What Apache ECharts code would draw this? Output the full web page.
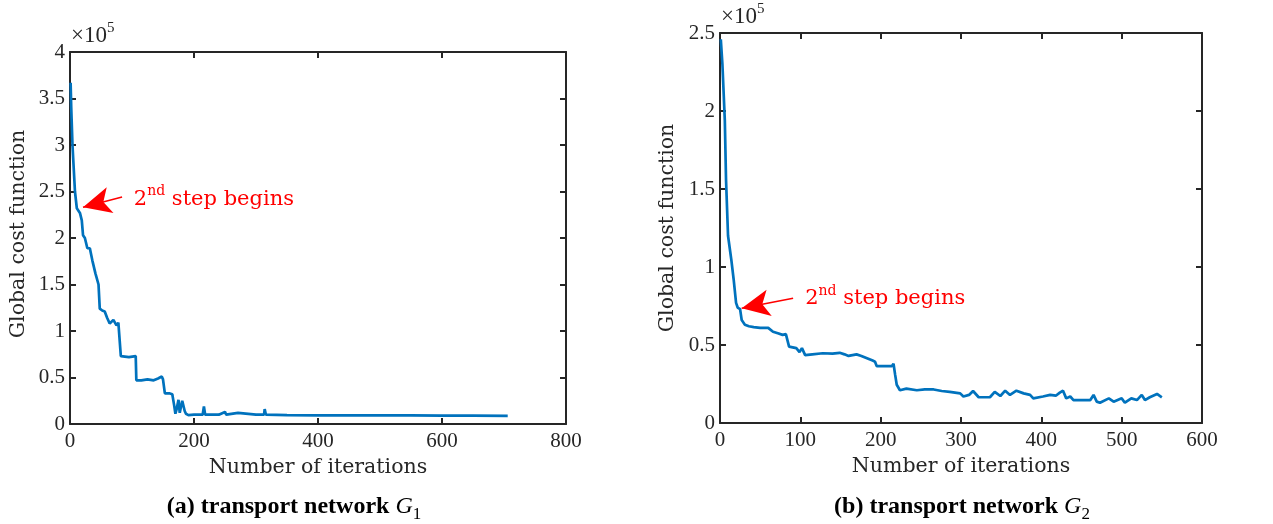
<!DOCTYPE html>
<html>
<head>
<meta charset="utf-8">
<script src="https://cdn.jsdelivr.net/npm/echarts@6/dist/echarts.min.js"></script>
<style>
html,body{margin:0;padding:0;background:#fff;}
#chart{width:1273px;height:524px;}
</style>
</head>
<body>
<div id="chart"></div>
<script>
// Values in units of 1e5
const iterA = [1,2,4,6,8,11,14,16,19,21,24,28,32,36,41,46,48,52,56,60,64,67,70,73,75,78,81,82,85,95,106,107,115,125,135,142,148,150,153,160,165,168,170,172,175,177,179,181,183,185,187,191,200,214,216,218,240,250,252,271,273,300,313,314,316,350,400,450,500,550,600,650,706];
const costA = [3.67,3.4,3.0,2.75,2.5,2.32,2.3,2.27,2.19,2.03,2.0,1.89,1.89,1.76,1.62,1.5,1.24,1.22,1.21,1.14,1.08,1.06,1.12,1.13,1.06,1.09,1.08,0.73,0.72,0.72,0.73,0.47,0.47,0.48,0.47,0.49,0.51,0.48,0.33,0.33,0.32,0.2,0.11,0.16,0.26,0.12,0.11,0.25,0.26,0.14,0.11,0.096,0.1,0.1,0.19,0.1,0.1,0.13,0.1,0.12,0.1,0.1,0.1,0.16,0.1,0.095,0.093,0.093,0.092,0.092,0.09,0.09,0.088];

const iterB = [1,3,6,7.5,10,14,17,20,22,25,27,31,36,42,50,60,66,72,78,82,86,95,99,102,106,115,128,140,149,155,160,170,176,183,190,193,195,205,214,216,218,220,224,232,245,255,266,276,286,299,303,310,315,322,336,342,349,355,361,369,378,386,390,402,411,418,423,427,431,436,440,450,461,465,469,473,484,490,500,504,512,519,525,529,535,544,550];
const costB = [2.46,2.3,1.94,1.56,1.2,1.05,0.92,0.77,0.74,0.73,0.66,0.63,0.62,0.615,0.61,0.61,0.585,0.575,0.565,0.57,0.49,0.48,0.455,0.48,0.435,0.44,0.447,0.445,0.45,0.44,0.43,0.44,0.43,0.415,0.40,0.393,0.365,0.365,0.365,0.38,0.31,0.245,0.21,0.22,0.21,0.215,0.215,0.205,0.2,0.19,0.17,0.18,0.205,0.165,0.165,0.2,0.173,0.207,0.18,0.207,0.19,0.18,0.158,0.17,0.18,0.175,0.195,0.207,0.158,0.17,0.147,0.147,0.147,0.18,0.137,0.13,0.158,0.137,0.158,0.13,0.158,0.147,0.18,0.147,0.165,0.186,0.165];

// Annotation anchors (data coords): tail, tip, text start
const annA = {tail:[84,2.44], tip:[21,2.33], text:[103,2.44]};
const annB = {tail:[91,0.80], tip:[27,0.735], text:[106,0.81]};

const xTicksA = {min:0, max:800, interval:200};
const yTicksA = {min:0, max:4, interval:0.5};
const xTicksB = {min:0, max:600, interval:100};
const yTicksB = {min:0, max:2.5, interval:0.5};

const NUMFONT = 'Liberation Serif';
const TXTFONT = 'DejaVu Serif';
const AX = '#262626';
const BLUE = '#0072BD';

function zip(a,b){return a.map((v,i)=>[v,b[i]]);}

function xAxisPair(grid, t){
  return [
    {type:'value', gridIndex:grid, min:t.min, max:t.max, interval:t.interval, position:'bottom',
     name:'Number of iterations', nameLocation:'middle', nameGap:33,
     nameTextStyle:{fontFamily:TXTFONT, fontSize:20.5, color:AX},
     axisLine:{show:true, onZero:false, lineStyle:{color:AX, width:2}},
     axisTick:{show:true, inside:true, length:6, lineStyle:{color:AX, width:2}},
     axisLabel:{show:true, margin:7, fontFamily:NUMFONT, fontSize:21, color:AX},
     splitLine:{show:false}},
    {type:'value', gridIndex:grid, min:t.min, max:t.max, interval:t.interval, position:'top',
     axisLine:{show:true, onZero:false, lineStyle:{color:AX, width:2}},
     axisTick:{show:true, inside:true, length:6, lineStyle:{color:AX, width:2}},
     axisLabel:{show:false}, splitLine:{show:false}}
  ];
}
function yAxisPair(grid, t){
  return [
    {type:'value', gridIndex:grid, min:t.min, max:t.max, interval:t.interval, position:'left',
     name:'{a|×10}{s|5}', nameLocation:'end', nameGap:5,
     nameTextStyle:{align:'left', padding:[0,0,0,1], rich:{
       a:{fontFamily:NUMFONT, fontSize:23, color:AX, verticalAlign:'bottom', lineHeight:26},
       s:{fontFamily:NUMFONT, fontSize:15, color:AX, verticalAlign:'top', lineHeight:26}}},
     axisLine:{show:true, onZero:false, lineStyle:{color:AX, width:2}},
     axisTick:{show:true, inside:true, length:6, lineStyle:{color:AX, width:2}},
     axisLabel:{show:true, margin:5, fontFamily:NUMFONT, fontSize:21, color:AX},
     splitLine:{show:false}},
    {type:'value', gridIndex:grid, min:t.min, max:t.max, interval:t.interval, position:'right',
     axisLine:{show:true, onZero:false, lineStyle:{color:AX, width:2}},
     axisTick:{show:true, inside:true, length:6, lineStyle:{color:AX, width:2}},
     axisLabel:{show:false}, splitLine:{show:false}}
  ];
}

function series(xi, yi, data, ann){
  return {
    type:'line', xAxisIndex:xi, yAxisIndex:yi, data:data, showSymbol:false, symbol:'none',
    lineStyle:{color:BLUE, width:2.7}, itemStyle:{color:BLUE}, animation:false,
    markLine:{silent:true, symbol:['none','arrow'], symbolSize:[20,28], animation:false,
      lineStyle:{color:'#ff0000', width:1.5, type:'solid'}, label:{show:false},
      data:[[{coord:ann.tail},{coord:ann.tip}]]},
    markPoint:{silent:true, animation:false, symbol:'circle', symbolSize:0,
      data:[{coord:ann.text}],
      label:{show:true, position:'right', distance:0,
        formatter:'{a|2}{s|nd}{a| step begins}',
        rich:{a:{fontFamily:TXTFONT, fontSize:21, color:'#ff0000', verticalAlign:'bottom', lineHeight:25},
              s:{fontFamily:TXTFONT, fontSize:14, color:'#ff0000', verticalAlign:'top', lineHeight:25}}}}
  };
}

const chart = echarts.init(document.getElementById('chart'), null, {renderer:'canvas'});
const capRich = {
  b:{fontFamily:NUMFONT, fontSize:24, fontWeight:'bold', color:'#000', verticalAlign:'bottom', lineHeight:28},
  i:{fontFamily:NUMFONT, fontSize:24, fontStyle:'italic', color:'#000', verticalAlign:'bottom', lineHeight:28},
  u:{fontFamily:NUMFONT, fontSize:17, color:'#000', verticalAlign:'bottom', lineHeight:28, padding:[0,0,-4,0]}
};
const yName = (x, y) => ({type:'text', x:x, y:y, rotation:Math.PI/2,
  style:{text:'Global cost function', font:'20.5px "DejaVu Serif"', fill:AX, textAlign:'center', textVerticalAlign:'middle'}});

chart.setOption({
  animation:false,
  grid:[
    {left:70, top:52, width:496, height:372},
    {left:720, top:33, width:482, height:390}
  ],
  xAxis:[...xAxisPair(0, xTicksA), ...xAxisPair(1, xTicksB)],
  yAxis:[...yAxisPair(0, yTicksA), ...yAxisPair(1, yTicksB)],
  series:[
    series(0, 0, zip(iterA, costA), annA),
    series(2, 2, zip(iterB, costB), annB)
  ],
  graphic:[
    yName(19, 234), yName(668, 228),
    {type:'text', x:294, y:505, style:{text:'{b|(a) transport network }{i|G}{u|1}', rich:capRich, textAlign:'center', textVerticalAlign:'middle'}},
    {type:'text', x:962, y:505, style:{text:'{b|(b) transport network }{i|G}{u|2}', rich:capRich, textAlign:'center', textVerticalAlign:'middle'}}
  ]
});
</script>
</body>
</html>
